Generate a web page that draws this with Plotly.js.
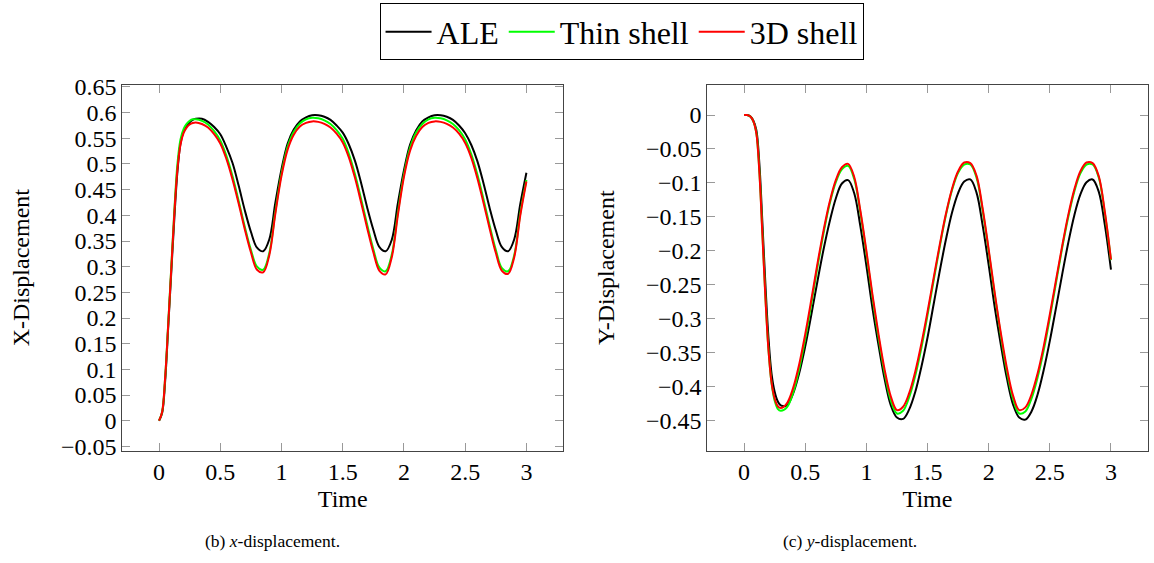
<!DOCTYPE html>
<html>
<head>
<meta charset="utf-8">
<script src="https://cdn.plot.ly/plotly-3.0.1.min.js"></script>
<style>html,body{margin:0;padding:0;background:#fff;}#chart{width:1154px;height:563px;}</style>
</head>
<body>
<div id="chart"></div>
<script>
// ---- data ----
const time = [0, 0.025, 0.05, 0.075, 0.1, 0.125, 0.15, 0.175, 0.2, 0.225, 0.25, 0.275, 0.3,
  0.35, 0.4, 0.45, 0.5, 0.55, 0.6, 0.65, 0.7, 0.75, 0.8, 0.85, 0.9, 0.95, 1.0,
  1.05, 1.1, 1.15, 1.2, 1.25, 1.3, 1.35, 1.4, 1.45, 1.5, 1.55, 1.6, 1.65, 1.7, 1.75, 1.8, 1.85, 1.9, 1.95, 2.0,
  2.05, 2.1, 2.15, 2.2, 2.25, 2.3, 2.35, 2.4, 2.45, 2.5, 2.55, 2.6, 2.65, 2.7, 2.75, 2.8, 2.85, 2.9, 2.95, 3.0];

const xAle = [0, 0.015, 0.078, 0.183, 0.29, 0.395, 0.485, 0.54, 0.563, 0.574, 0.581, 0.586, 0.588,
  0.588, 0.582, 0.572, 0.558, 0.533, 0.502, 0.458, 0.410, 0.368, 0.337, 0.330, 0.353, 0.425, 0.490,
  0.540, 0.567, 0.583, 0.591, 0.595, 0.595, 0.592, 0.586, 0.575, 0.561, 0.538, 0.506, 0.463, 0.415, 0.372, 0.338, 0.330, 0.352, 0.423, 0.488,
  0.538, 0.566, 0.583, 0.591, 0.595, 0.595, 0.592, 0.586, 0.575, 0.560, 0.537, 0.505, 0.462, 0.414, 0.371, 0.338, 0.330, 0.353, 0.422, 0.483];
const xThin = [0, 0.017, 0.085, 0.19, 0.30, 0.41, 0.50, 0.548, 0.568, 0.578, 0.584, 0.587, 0.587,
  0.584, 0.577, 0.564, 0.546, 0.516, 0.476, 0.428, 0.378, 0.333, 0.300, 0.294, 0.326, 0.408, 0.482,
  0.534, 0.563, 0.579, 0.587, 0.590, 0.589, 0.585, 0.578, 0.566, 0.549, 0.520, 0.480, 0.432, 0.381, 0.334, 0.298, 0.291, 0.323, 0.405, 0.480,
  0.532, 0.562, 0.578, 0.587, 0.590, 0.589, 0.585, 0.578, 0.566, 0.548, 0.519, 0.479, 0.431, 0.380, 0.333, 0.297, 0.291, 0.322, 0.404, 0.469];
const x3d = [0, 0.017, 0.085, 0.188, 0.297, 0.405, 0.49, 0.538, 0.560, 0.571, 0.577, 0.580, 0.581,
  0.578, 0.571, 0.558, 0.540, 0.510, 0.470, 0.423, 0.373, 0.328, 0.294, 0.289, 0.322, 0.404, 0.477,
  0.528, 0.557, 0.573, 0.580, 0.583, 0.582, 0.578, 0.571, 0.559, 0.542, 0.513, 0.473, 0.425, 0.375, 0.328, 0.292, 0.285, 0.318, 0.400, 0.475,
  0.526, 0.555, 0.572, 0.580, 0.583, 0.582, 0.578, 0.571, 0.559, 0.541, 0.512, 0.472, 0.424, 0.374, 0.327, 0.292, 0.286, 0.318, 0.400, 0.466];

const yAle = [0, 0, -0.002, -0.008, -0.022, -0.072, -0.16, -0.252, -0.33, -0.382, -0.408, -0.422, -0.428,
  -0.428, -0.411, -0.381, -0.341, -0.294, -0.245, -0.198, -0.157, -0.123, -0.101, -0.096, -0.115, -0.163, -0.222,
  -0.285, -0.340, -0.390, -0.428, -0.446, -0.448, -0.434, -0.408, -0.371, -0.328, -0.279, -0.230, -0.184, -0.144, -0.115, -0.098, -0.095, -0.114, -0.162, -0.221,
  -0.284, -0.339, -0.389, -0.427, -0.446, -0.449, -0.437, -0.412, -0.376, -0.333, -0.285, -0.236, -0.189, -0.148, -0.117, -0.099, -0.095, -0.113, -0.162, -0.228];
const yThin = [0, 0, -0.002, -0.009, -0.026, -0.083, -0.175, -0.27, -0.347, -0.396, -0.421, -0.433, -0.436,
  -0.431, -0.410, -0.375, -0.330, -0.278, -0.224, -0.174, -0.131, -0.099, -0.080, -0.075, -0.094, -0.143, -0.204,
  -0.269, -0.329, -0.381, -0.421, -0.440, -0.436, -0.416, -0.384, -0.343, -0.295, -0.244, -0.194, -0.148, -0.111, -0.085, -0.073, -0.073, -0.092, -0.140, -0.201,
  -0.266, -0.326, -0.379, -0.419, -0.440, -0.437, -0.418, -0.387, -0.347, -0.299, -0.248, -0.197, -0.151, -0.113, -0.086, -0.073, -0.073, -0.092, -0.145, -0.214];
const y3d = [0, 0, -0.002, -0.009, -0.027, -0.085, -0.178, -0.272, -0.348, -0.395, -0.418, -0.429, -0.432,
  -0.425, -0.403, -0.368, -0.323, -0.272, -0.219, -0.170, -0.128, -0.096, -0.077, -0.072, -0.091, -0.140, -0.200,
  -0.265, -0.324, -0.376, -0.415, -0.435, -0.430, -0.410, -0.378, -0.337, -0.290, -0.240, -0.191, -0.146, -0.109, -0.083, -0.070, -0.071, -0.089, -0.137, -0.198,
  -0.263, -0.322, -0.374, -0.414, -0.435, -0.431, -0.412, -0.381, -0.341, -0.294, -0.244, -0.194, -0.148, -0.110, -0.083, -0.070, -0.071, -0.090, -0.143, -0.213];

const seriesNames = ['ALE', 'Thin shell', '3D shell'];
const seriesColors = ['#000000', '#00ff00', '#ff0000'];

const xTickVals = [0, 0.5, 1, 1.5, 2, 2.5, 3];
const xTickText = ['0', '0.5', '1', '1.5', '2', '2.5', '3'];
const leftTickVals = [-0.05, 0, 0.05, 0.1, 0.15, 0.2, 0.25, 0.3, 0.35, 0.4, 0.45, 0.5, 0.55, 0.6, 0.65];
const leftTickText = ['\u22120.05', '0', '0.05', '0.1', '0.15', '0.2', '0.25', '0.3', '0.35', '0.4', '0.45', '0.5', '0.55', '0.6', '0.65'];
const rightTickVals = [-0.45, -0.4, -0.35, -0.3, -0.25, -0.2, -0.15, -0.1, -0.05, 0];
const rightTickText = ['\u22120.45', '\u22120.4', '\u22120.35', '\u22120.3', '\u22120.25', '\u22120.2', '\u22120.15', '\u22120.1', '\u22120.05', '0'];

// ---- figure ----
const FONT = 'Liberation Serif, Times New Roman, serif';
const xSeries = [xAle, xThin, x3d];
const ySeries = [yAle, yThin, y3d];
const traces = [];
for (let i = 0; i < 3; i++) {
  traces.push({x: time, y: xSeries[i], xaxis: 'x', yaxis: 'y', type: 'scatter', mode: 'lines',
    name: seriesNames[i], line: {color: seriesColors[i], width: 2, shape: 'spline', smoothing: 1}, showlegend: true});
}
for (let i = 0; i < 3; i++) {
  traces.push({x: time, y: ySeries[i], xaxis: 'x2', yaxis: 'y2', type: 'scatter', mode: 'lines',
    name: seriesNames[i], line: {color: seriesColors[i], width: 2, shape: 'spline', smoothing: 1}, showlegend: false});
}

function xAxis(domain, anchor) {
  return {domain: domain, anchor: anchor, range: [-0.3, 3.3], tickmode: 'array', tickvals: xTickVals, ticktext: xTickText,
    ticks: 'inside', ticklen: 8, tickwidth: 1, tickcolor: '#999', showline: true, linecolor: '#444', linewidth: 1,
    mirror: 'ticks', showgrid: false, zeroline: false, tickfont: {family: FONT, size: 24, color: '#000'},
    title: {text: 'Time', font: {family: FONT, size: 24, color: '#000'}, standoff: 5}};
}
function yAxis(domain, anchor, range, tv, tt, title) {
  return {domain: domain, anchor: anchor, range: range, tickmode: 'array', tickvals: tv, ticktext: tt,
    ticks: 'inside', ticklen: 8, tickwidth: 1, tickcolor: '#999', showline: true, linecolor: '#444', linewidth: 1,
    mirror: 'ticks', showgrid: false, zeroline: false, tickfont: {family: FONT, size: 24, color: '#000'},
    title: {text: title, font: {family: FONT, size: 24, color: '#000'}, standoff: 24}};
}

const layout = {
  width: 1154, height: 563,
  margin: {l: 0, r: 0, t: 0, b: 0},
  paper_bgcolor: '#fff', plot_bgcolor: '#fff',
  font: {family: FONT, color: '#000'},
  xaxis: xAxis([0.106, 0.488], 'y'),
  yaxis: yAxis([0.1995, 0.8496], 'x', [-0.0584, 0.6545], leftTickVals, leftTickText, 'X-Displacement'),
  xaxis2: xAxis([0.613, 0.9945], 'y2'),
  yaxis2: yAxis([0.1995, 0.8496], 'x2', [-0.4948, 0.0447], rightTickVals, rightTickText, 'Y-Displacement'),
  showlegend: true,
  legend: {orientation: 'h', x: 0.5386, xanchor: 'center', y: 0.994, yanchor: 'top',
    bordercolor: '#000', borderwidth: 1, bgcolor: '#fff',
    font: {family: FONT, size: 32, color: '#000'}, itemwidth: 46, tracegroupgap: 0},
  annotations: [
    {text: '(b) <i>x</i>-displacement.', xref: 'paper', yref: 'paper', x: 0.236, y: 0.039, xanchor: 'center', yanchor: 'middle',
      showarrow: false, font: {family: FONT, size: 17.5, color: '#000'}},
    {text: '(c) <i>y</i>-displacement.', xref: 'paper', yref: 'paper', x: 0.737, y: 0.039, xanchor: 'center', yanchor: 'middle',
      showarrow: false, font: {family: FONT, size: 17.5, color: '#000'}}
  ]
};

Plotly.newPlot('chart', traces, layout, {displayModeBar: false, staticPlot: true});
</script>
</body>
</html>
